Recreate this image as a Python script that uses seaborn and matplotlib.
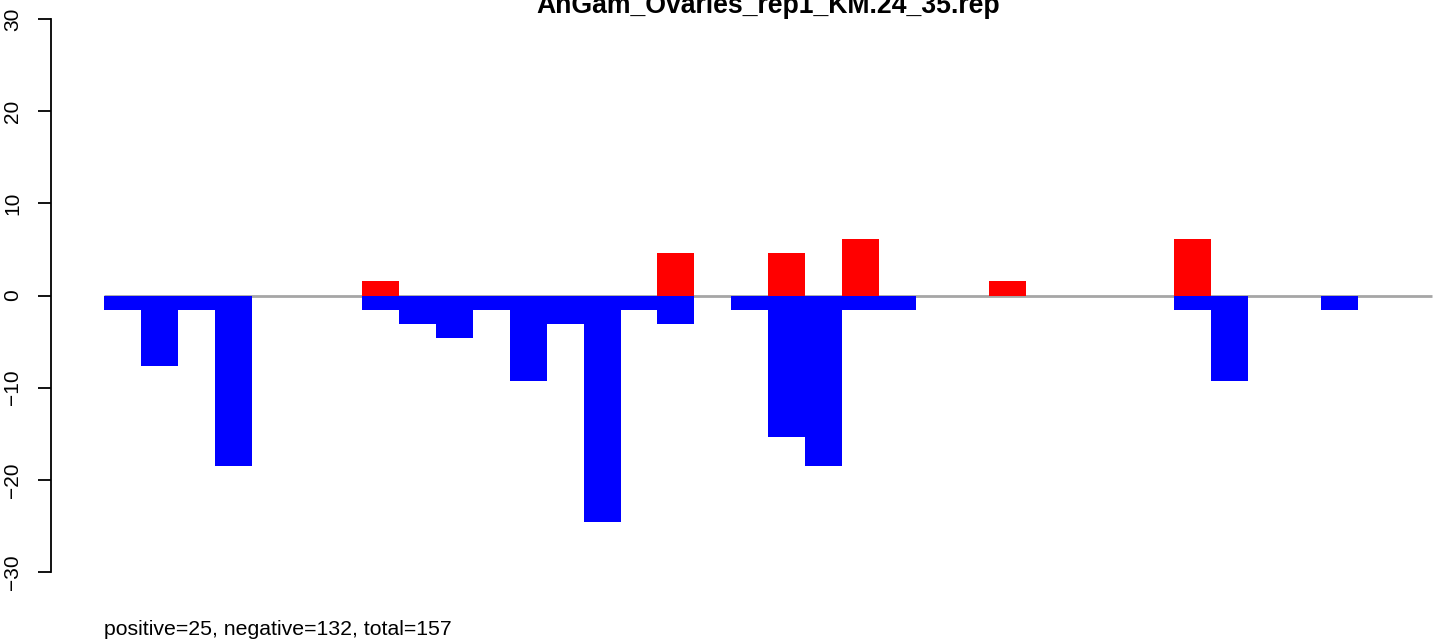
import seaborn as sns
import matplotlib.pyplot as plt
import pandas as pd
import numpy as np

# one slot per bar (percent units)
positions = list(range(36))
positive = [0, 0, 0, 0, 0, 0, 0, 1.54, 0, 0, 0, 0, 0, 0, 0, 4.62, 0, 0, 4.62, 0,
            6.15, 0, 0, 0, 1.54, 0, 0, 0, 0, 6.15, 0, 0, 0, 0, 0, 0]
negative = [-1.54, -7.69, -1.54, -18.46, 0, 0, 0, -1.54, -3.08, -4.62, -1.54, -9.23,
            -3.08, -24.62, -1.54, -3.08, 0, -1.54, -15.38, -18.46, -1.54, -1.54, 0, 0,
            0, 0, 0, 0, 0, -1.54, -9.23, 0, 0, -1.54, 0, 0]
yticks = [-30, -20, -10, 0, 10, 20, 30]
title = 'AnGam_Ovaries_rep1_KM.24_35.rep'
subtitle = 'positive=25, negative=132, total=157'

df = pd.DataFrame({'pos': positions, 'positive': positive, 'negative': negative})

sns.set_style('white')
plt.rcParams['font.family'] = ['Liberation Sans', 'DejaVu Sans']
plt.rcParams['text.color'] = 'black'
plt.rcParams['ytick.color'] = 'black'

W, H = 1439, 643
fig = plt.figure(figsize=(W/100, H/100), dpi=100)
# plot region in pixels: x 51..1439, y 8..583
ax = fig.add_axes([51/W, 1 - 583/H, (W - 51)/W, 575/H])

ax.hlines(0, -0.5, 35.5, color='#a6a6a6', linewidth=2, zorder=1)
sns.barplot(data=df, x='pos', y='positive', color='#ff0000', saturation=1,
            width=1, linewidth=0, ax=ax, zorder=2)
sns.barplot(data=df, x='pos', y='negative', color='#0000ff', saturation=1,
            width=1, linewidth=0, ax=ax, zorder=2)

ax.set_xlim(-1.94, 35.69)
ax.set_ylim(-31.2, 31.2)
ax.set_xticks([])
ax.set_xlabel(None)
ax.set_ylabel(None)

sns.despine(ax=ax, top=True, right=True, bottom=True)
ax.spines['left'].set_bounds(-30, 30)
ax.spines['left'].set_linewidth(1.3)
ax.spines['left'].set_color('black')
ax.set_yticks(yticks)
ax.set_yticklabels([str(t).replace('-', '\u2212') for t in yticks],
                   rotation=90, va='center', fontsize=15)
ax.tick_params(axis='y', left=True, length=9.4, width=1.3, pad=11.5,
               color='black', labelcolor='black')

fig.text(768/W, 1 - 13/H, title, ha='center', va='baseline',
         fontsize=19.2, fontweight='bold', color='black')
fig.text(104/W, 1 - 635/H, subtitle, ha='left', va='baseline', fontsize=15.3,
         color='black')

fig.savefig('out.png', dpi=100, facecolor='white')
